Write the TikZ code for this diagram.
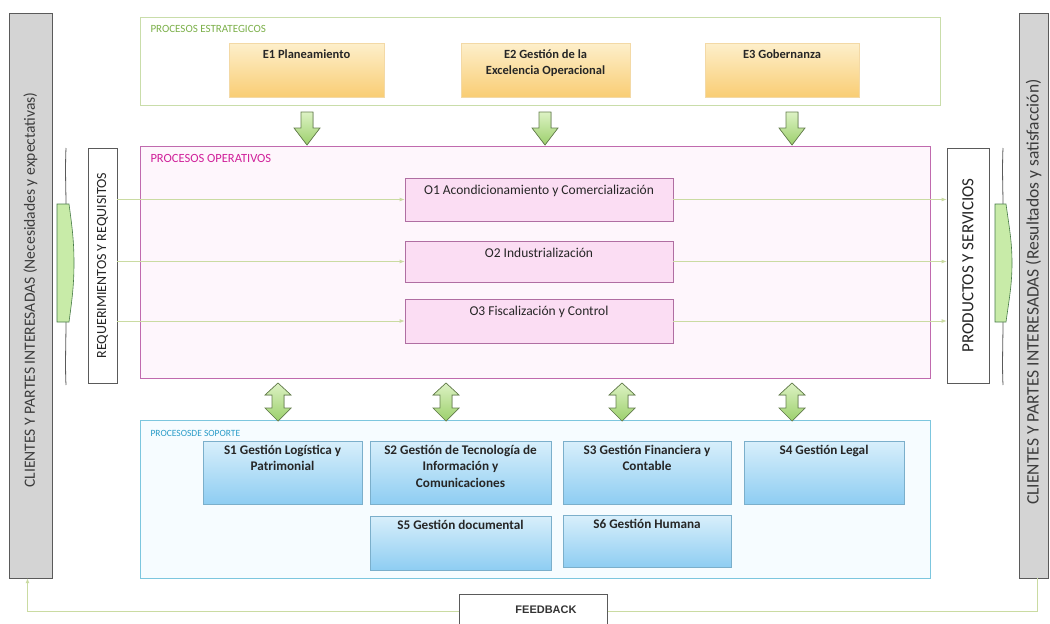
\documentclass[tikz,border=0pt]{standalone}
\usepackage{fontspec}
\setmainfont{Carlito}
\newfontfamily\arialf{Liberation Sans}
\usetikzlibrary{arrows.meta}
\definecolor{grayfill}{HTML}{D4D4D4}
\definecolor{grayline}{HTML}{5A5A5A}
\definecolor{graytext}{HTML}{3C3C3C}
\definecolor{estline}{HTML}{C9DDAA}
\definecolor{estlabel}{HTML}{7CB04A}
\definecolor{etop}{HTML}{FDEFCB}
\definecolor{ebot}{HTML}{F9CD74}
\definecolor{eline}{HTML}{F3D9A6}
\definecolor{opline}{HTML}{C06AAE}
\definecolor{opfill}{HTML}{FEF6FC}
\definecolor{oplabel}{HTML}{D0209A}
\definecolor{ofill}{HTML}{FBDDF3}
\definecolor{oline}{HTML}{B06EA2}
\definecolor{supline}{HTML}{7CC6DE}
\definecolor{supfill}{HTML}{F6FCFF}
\definecolor{suplabel}{HTML}{2A9CC8}
\definecolor{stop}{HTML}{D8EFFB}
\definecolor{sbot}{HTML}{8ECDF2}
\definecolor{sline}{HTML}{7BAFCB}
\definecolor{flowline}{HTML}{CADBA2}
\definecolor{agreen1}{HTML}{DDF2C4}
\definecolor{agreen2}{HTML}{9CD06C}
\definecolor{aline}{HTML}{66804E}
\definecolor{brgreen}{HTML}{C8EBA8}
\begin{document}
\begin{tikzpicture}[x=1pt,y=-1pt,
  graybox/.style={draw=grayline,fill=grayfill,line width=0.8pt},
  graytxt/.style={text=graytext,rotate=90},
  whitebox/.style={draw=grayline,fill=white,line width=0.8pt},
  whitetxt/.style={text=black!85,rotate=90},
  group/.style={line width=0.8pt},
  grplabel/.style={anchor=west},
  ebox/.style={draw=eline,top color=etop,bottom color=ebot,line width=0.6pt},
  obox/.style={draw=oline,fill=ofill,line width=0.8pt},
  sbox/.style={draw=sline,top color=stop,bottom color=sbot,line width=0.8pt},
  etxt/.style={anchor=north,align=center,font=\fontsize{12.5}{16}\selectfont\bfseries,text=black!85},
  btxt/.style={anchor=north,align=center,font=\fontsize{13.2}{16.5}\selectfont\bfseries,text=black!85},
  otxt/.style={anchor=north,align=center,font=\fontsize{13.5}{16}\selectfont,text=black!85},
  flow/.style={draw=flowline,line width=0.8pt,-{Latex[length=5pt,width=4pt]}},
  blockarr/.style={draw=aline,line width=0.7pt,top color=agreen1,bottom color=agreen2},
  fb/.style={draw=flowline,line width=0.9pt}
]
\useasboundingbox (0,0) rectangle (1050,624);
\fill[white] (0,0) rectangle (1050,624);

% side gray boxes
\path[graybox] (9,13) rectangle (52,578);
\node[inner sep=0,minimum width=43,minimum height=565] (lg) at (30.5,295.5) {};
\node[graytxt,font=\fontsize{15.6}{18}\selectfont] (lgt) at (30.5,290) {CLIENTES Y PARTES INTERESADAS (Necesidades y expectativas)};
\path[graybox] (1019,13) rectangle (1048,578);
\node[inner sep=0,minimum width=29,minimum height=565] (rg) at (1033.5,295.5) {};
\node[graytxt,font=\fontsize{17.5}{19}\selectfont] (rgt) at (1033.5,292) {CLIENTES Y PARTES INTERESADAS (Resultados y satisfacción)};

% braces
\draw[grayline,line width=0.8pt] (66,148) .. controls (65,170) and (66,190) .. (66,205);
\draw[grayline,line width=0.8pt] (66,322) .. controls (66,340) and (65,365) .. (66,385);
\filldraw[draw=grayline!80!green,fill=brgreen,line width=0.6pt] (57,204) -- (57,322) -- (69,322) .. controls (72,300) and (74,285) .. (74,263) .. controls (74,241) and (72,226) .. (69,204) -- cycle;
\draw[grayline,line width=0.8pt] (1003,148) .. controls (1002,170) and (1003,190) .. (1003,205);
\draw[grayline,line width=0.8pt] (1003,322) .. controls (1003,340) and (1002,365) .. (1003,385);
\filldraw[draw=grayline!80!green,fill=brgreen,line width=0.6pt] (995,204) -- (995,322) -- (1006,322) .. controls (1009,300) and (1012,285) .. (1012,263) .. controls (1012,241) and (1009,226) .. (1006,204) -- cycle;

% requirement / product boxes
\node[whitebox,inner sep=0,minimum width=29,minimum height=235] (rq) at (102.5,265.5) {};
\node[whitetxt,font=\fontsize{14}{16}\selectfont] (rqt) at (rq.center) {REQUERIMIENTOS Y REQUISITOS};
\node[whitebox,inner sep=0,minimum width=42,minimum height=235] (ps) at (968,265.5) {};
\node[whitetxt,font=\fontsize{17}{19}\selectfont] (pst) at (ps.center) {PRODUCTOS Y SERVICIOS};

% strategic
\node[group,draw=estline,fill=white,inner sep=0,minimum width=800,minimum height=88] (est) at (540,61) {};
\node[grplabel,text=estlabel,font=\fontsize{11}{12}\selectfont] (estl) at (147,29) {PROCESOS ESTRATEGICOS};
\node[ebox,inner sep=0,minimum width=155,minimum height=54] (e1) at (306.5,70) {};
\node[etxt] (e1t) at ([yshift=-3]e1.north) {E1 Planeamiento};
\node[ebox,inner sep=0,minimum width=169,minimum height=54] (e2) at (545.5,70) {};
\node[etxt] (e2t) at ([yshift=-3]e2.north) {E2 Gestión de la\\Excelencia Operacional};
\node[ebox,inner sep=0,minimum width=154,minimum height=54] (e3) at (782,70) {};
\node[etxt] (e3t) at ([yshift=-3]e3.north) {E3 Gobernanza};

% operative
\node[group,draw=opline,fill=opfill,inner sep=0,minimum width=790,minimum height=232] (op) at (535,262) {};
\node[grplabel,text=oplabel,font=\fontsize{12.5}{14}\selectfont] (opl) at (147,158) {PROCESOS OPERATIVOS};
\node[obox,inner sep=0,minimum width=268,minimum height=43] (o1) at (539,199.5) {};
\node[otxt] (o1t) at ([yshift=-4]o1.north) {O1 Acondicionamiento y Comercialización};
\node[obox,inner sep=0,minimum width=268,minimum height=41] (o2) at (539,261.5) {};
\node[otxt] (o2t) at ([yshift=-4]o2.north) {O2 Industrialización};
\node[obox,inner sep=0,minimum width=268,minimum height=44] (o3) at (539,321) {};
\node[otxt] (o3t) at ([yshift=-4]o3.north) {O3 Fiscalización y Control};

\draw[flow] (rq.east |- o1.west) -- (o1.west);
\draw[flow] (rq.east |- o2.west) -- (o2.west);
\draw[flow] (rq.east |- o3.west) -- (o3.west);
\draw[flow] (o1.east) -- (ps.west |- o1.east);
\draw[flow] (o2.east) -- (ps.west |- o2.east);
\draw[flow] (o3.east) -- (ps.west |- o3.east);

% support
\node[group,draw=supline,fill=supfill,inner sep=0,minimum width=790,minimum height=158] (sup) at (535,499) {};
\node[grplabel,text=suplabel,font=\fontsize{9.5}{11}\selectfont] (supl) at (147,433) {PROCESOSDE SOPORTE};
\node[sbox,inner sep=0,minimum width=159,minimum height=63] (s1) at (282.5,472.5) {};
\node[btxt] (s1t) at ([yshift=-1]s1.north) {S1 Gestión Logística y\\Patrimonial};
\node[sbox,inner sep=0,minimum width=181,minimum height=63] (s2) at (460.5,472.5) {};
\node[btxt] (s2t) at ([yshift=-1]s2.north) {S2 Gestión de Tecnología de\\Información y\\Comunicaciones};
\node[sbox,inner sep=0,minimum width=168,minimum height=63] (s3) at (647,472.5) {};
\node[btxt] (s3t) at ([yshift=-1]s3.north) {S3 Gestión Financiera y\\Contable};
\node[sbox,inner sep=0,minimum width=160,minimum height=63] (s4) at (824,472.5) {};
\node[btxt] (s4t) at ([yshift=-1]s4.north) {S4 Gestión Legal};
\node[sbox,inner sep=0,minimum width=181,minimum height=54] (s5) at (460.5,543) {};
\node[btxt] (s5t) at ([yshift=-1]s5.north) {S5 Gestión documental};
\node[sbox,inner sep=0,minimum width=168,minimum height=52] (s6) at (647,541.5) {};
\node[btxt] (s6t) at ([yshift=-1]s6.north) {S6 Gestión Humana};

% down block arrows
\foreach \cx in {307,545,792}{
  \filldraw[blockarr] ({\cx-6},112) -- ({\cx+6},112) -- ({\cx+6},128) -- ({\cx+13},128) -- (\cx,145) -- ({\cx-13},128) -- ({\cx-6},128) -- cycle;
}
% double block arrows
\foreach \cx in {278,446,622,792}{
  \filldraw[blockarr] (\cx,383) -- ({\cx+13},395) -- ({\cx+6},395) -- ({\cx+6},408) -- ({\cx+13},408) -- (\cx,421) -- ({\cx-13},408) -- ({\cx-6},408) -- ({\cx-6},395) -- ({\cx-13},395) -- cycle;
}

% feedback
\node[draw=grayline,fill=white,line width=0.8pt,inner sep=0,minimum width=148,minimum height=34,anchor=north west] (fbk) at (459,594) {};
\node[font=\arialf\bfseries\fontsize{11}{12}\selectfont,text=black!80] (fbt) at (546,610) {FEEDBACK};
\draw[fb,-{Latex[length=5pt,width=4pt]}] (fbk.west |- 0,611) -| ([xshift=-3]lg.south);
\draw[fb] (fbk.east |- 0,611) -| ([xshift=4]rg.south);
\end{tikzpicture}
\end{document}
